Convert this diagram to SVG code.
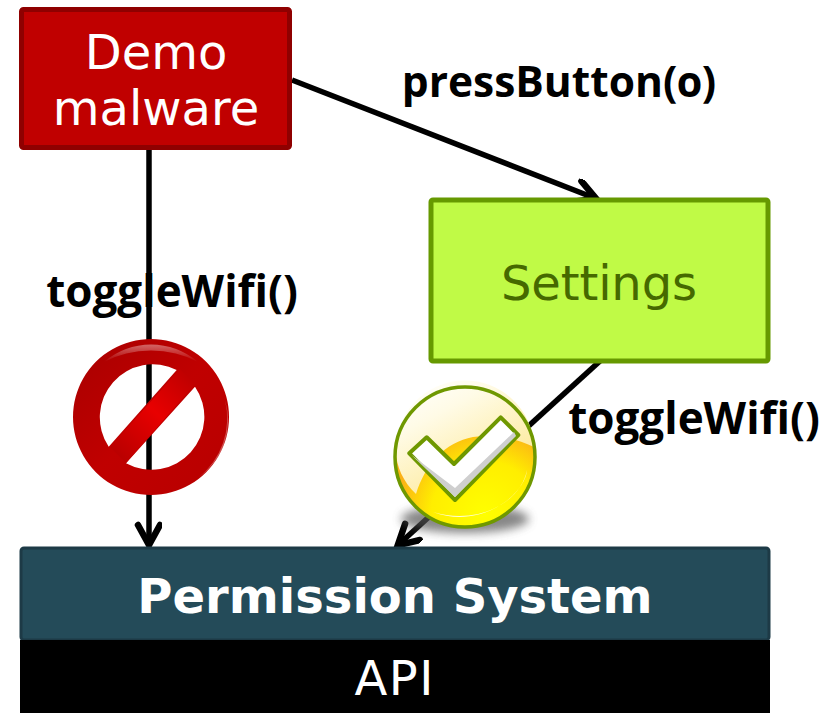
<svg xmlns="http://www.w3.org/2000/svg" width="835" height="713" viewBox="0 0 835 713">
<style>
.n{font-family:"DejaVu Sans",Verdana,sans-serif;text-anchor:middle;font-size:48px}
.l{font-family:"Open Sans","Liberation Sans",sans-serif;font-weight:700;font-size:44px;fill:#000;text-anchor:middle;font-feature-settings:"onum"}
.c{stroke:#000;stroke-width:5.500;fill:none}
</style>
<defs>
<marker id="a" markerUnits="userSpaceOnUse" markerWidth="32" markerHeight="32" refX="25" refY="13" orient="auto"><path d="M4 2L24 13L4 24" fill="none" stroke="#000" stroke-width="6.500" stroke-linecap="round"/></marker>
<radialGradient id="y" gradientUnits="userSpaceOnUse" cx="485" cy="515" r="90"><stop offset="0" stop-color="#ffff00"/><stop offset="0.6" stop-color="#ffee00"/><stop offset="1" stop-color="#fbb116"/></radialGradient>
<linearGradient id="yt" x1="0.1" y1="0" x2="0.75" y2="1"><stop offset="0" stop-color="#fff"/><stop offset="0.3" stop-color="#fffbe6"/><stop offset="1" stop-color="#fde68a"/></linearGradient>
<linearGradient id="r" x1="0" y1="0" x2="1" y2="1"><stop offset="0" stop-color="#a80000"/><stop offset="0.5" stop-color="#c00000"/><stop offset="1" stop-color="#b80000"/></linearGradient>
<linearGradient id="b" gradientUnits="userSpaceOnUse" x1="115" y1="455" x2="190" y2="378"><stop offset="0" stop-color="#b80000"/><stop offset="0.55" stop-color="#e80000"/><stop offset="1" stop-color="#c00000"/></linearGradient>
<linearGradient id="h" x1="0" y1="0" x2="0" y2="1"><stop offset="0" stop-color="#fff" stop-opacity="0.4"/><stop offset="1" stop-color="#fff" stop-opacity="0"/></linearGradient>
<filter id="bl" x="-30%" y="-60%" width="160%" height="220%"><feGaussianBlur stdDeviation="5"/></filter>
</defs>
<g id="connectors">
<line class="c" x1="149" y1="149" x2="149" y2="546" marker-end="url(#a)"/>
<line class="c" x1="292" y1="80" x2="597" y2="199" marker-end="url(#a)"/>
<line class="c" x1="600" y1="361" x2="397" y2="546" marker-end="url(#a)"/>
</g>
<g id="demo-malware">
<rect x="21.500" y="9.500" width="268" height="138" rx="2" fill="#c00000" stroke="#8f0000" stroke-width="5"/>
<text class="n" fill="#fff" x="156" y="69">Demo</text>
<text class="n" fill="#fff" x="156" y="125">malware</text>
</g>
<g id="settings">
<rect x="431" y="200" width="337" height="161" rx="2" fill="#c0fa46" stroke="#669900" stroke-width="5"/>
<text class="n" fill="#466900" x="599" y="300" textLength="196">Settings</text>
</g>
<g id="permission-system">
<rect x="21" y="548" width="748" height="92" rx="3" fill="#244b59" stroke="#1d3a46" stroke-width="3"/>
<text class="n" font-weight="700" fill="#fff" x="395" y="613">Permission System</text>
</g>
<g id="api">
<rect x="20" y="640" width="750" height="73" fill="#000"/>
<text class="n" fill="#fff" x="394" y="695" textLength="79">API</text>
</g>
<g id="label-press"><text class="l" x="559" y="97" style="font-size:42.500px">pressButton(0)</text></g>
<g id="label-toggle-left"><text class="l" x="172" y="307">toggleWifi()</text></g>
<g id="label-toggle-right"><text class="l" x="694" y="434">toggleWifi()</text></g>
<g id="no-sign">
<path fill-rule="evenodd" fill="url(#r)" d="M151 339a78 78 0 1 0 0.010 0ZM176.700 370A53 53 0 0 0 108.700 446.700ZM195 386.700A53 53 0 0 1 126 463.300Z"/>
<path fill="url(#b)" d="M180 369L195 384L126 463L110 447Z"/>
<path fill="url(#h)" d="M104 362A72 72 0 0 1 198 362A80 60 0 0 0 104 362Z"/>
<path fill="#fff" opacity="0.3" d="M225 400A76 76 0 0 1 198 478A70 70 0 0 0 225 400Z"/>
</g>
<g id="check-mark">
<ellipse cx="465" cy="519" rx="64" ry="14" fill="#555" opacity="0.7" filter="url(#bl)"/>
<circle cx="465" cy="457" r="70" fill="url(#y)"/>
<path d="M396 452A69 69 0 0 1 534 447C515 438 495 434 473 437C445 442 425 465 416 494C403 482 396 465 396 452Z" fill="url(#yt)"/>
<path d="M433 512C475 525 520 505 527 470C525 495 480 530 433 512Z" fill="#fff" opacity="0.85"/>
<circle cx="465" cy="457" r="70" fill="none" stroke="#6f9800" stroke-width="3.500"/>
<path d="M409.300 453.300L426.700 437.300L454 464L500.700 417.300L518.300 435L455 500Z" fill="#fff" stroke="#6f9800" stroke-width="4" stroke-linejoin="round"/>
<path d="M411.500 455L455 497L516 436L514 432L455 488Z" fill="#cfcfcf"/>
</g>
</svg>
